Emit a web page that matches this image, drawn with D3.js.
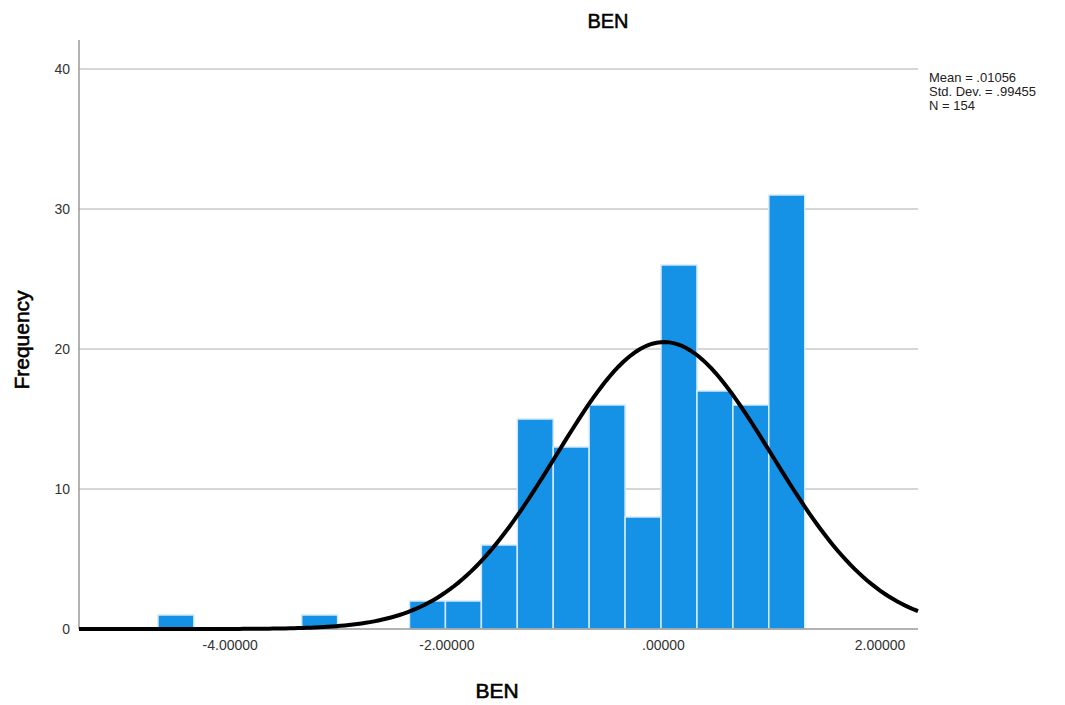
<!DOCTYPE html>
<html lang="en">
<head>
    <meta charset="UTF-8">
    <title>BEN Histogram</title>
    <style>
        body { margin: 0; background: #fff; }
        text { font-family: "Liberation Sans", Arial, sans-serif; }
    </style>
    <script src="https://d3js.org/d3.v7.min.js"></script>
</head>
<body>
    <div id="chart"></div>

    <script>
        // histogram data
        const binStart = -4.663
        const binWidth = 0.3318
        const counts = [1, 0, 0, 0, 1, 0, 0, 2, 2, 6, 15, 13, 16, 8, 26, 17, 16, 31]
        const xTicks = [-4, -2, 0, 2]
        const yTicks = [0, 10, 20, 30, 40]
        const stats = { mean: 0.01056, sd: 0.99455, n: 154 }
        const statLines = ["Mean = .01056", "Std. Dev. = .99455", "N = 154"]

        const width = 1065, height = 705
        const plot = {left: 79, right: 918, top: 40, bottom: 629}

        const svg = d3.select("#chart")
            .append("svg")
            .attr("width", width)
            .attr("height", height)

        const x = d3.scaleLinear()
            .domain([-5.392, 2.355])
            .range([plot.left, plot.right])

        const y = d3.scaleLinear()
            .domain([0, 42.07])
            .range([plot.bottom, plot.top])

        // SPSS style: plain hyphen, no leading zero
        const fmtX = d => d === 0 ? ".00000" : (d < 0 ? "-" : "") + Math.abs(d).toFixed(5)

        //gridlines
        svg.append("g")
            .selectAll("line")
            .data(yTicks.filter(d => d > 0))
            .join("line")
            .attr("x1", plot.left)
            .attr("x2", plot.right)
            .attr("y1", d => y(d))
            .attr("y2", d => y(d))
            .attr("stroke", "#c8c8c8")
            .attr("stroke-width", 1.5)

        //bars
        const bins = counts.map((c, i) => ({x0: binStart + i*binWidth, x1: binStart + (i+1)*binWidth, count: c}))
        svg.append("g")
            .selectAll("rect")
            .data(bins.filter(d => d.count > 0))
            .join("rect")
            .attr("x", d => x(d.x0))
            .attr("width", d => x(d.x1) - x(d.x0))
            .attr("y", d => y(d.count))
            .attr("height", d => y(0) - y(d.count))
            .attr("fill", "#1591e6")
            .attr("stroke", "#d4eafa")
            .attr("stroke-width", 1.5)

        //axes
        const yAxis = svg.append("g")
            .attr("transform", `translate(${plot.left},0)`)
            .call(d3.axisLeft(y).tickValues(yTicks).tickSize(0).tickPadding(9))
        yAxis.select(".domain").attr("stroke", "#9a9a9a").attr("stroke-width", 1.5)
            .attr("d", `M0,${plot.bottom}V${plot.top}`)
        yAxis.selectAll("text").style("font-size", "14px").attr("fill", "#333")

        const xAxis = svg.append("g")
            .attr("transform", `translate(0,${plot.bottom})`)
            .call(d3.axisBottom(x).tickValues(xTicks).tickFormat(fmtX).tickSize(0).tickPadding(11))
        xAxis.select(".domain").attr("stroke", "#9a9a9a").attr("stroke-width", 1.5)
            .attr("d", `M${plot.left},0H${plot.right}`)
        xAxis.selectAll("text").style("font-size", "14px").attr("fill", "#333")

        //normal curve
        const normal = v => stats.n * binWidth / (stats.sd * Math.sqrt(2*Math.PI)) *
            Math.exp(-0.5 * Math.pow((v - stats.mean) / stats.sd, 2))
        const curvePts = d3.range(200).map(i => {
            const v = x.domain()[0] + i * (x.domain()[1] - x.domain()[0]) / 199
            return [v, normal(v)]
        })
        svg.append("path")
            .datum(curvePts)
            .attr("d", d3.line().x(d => x(d[0])).y(d => y(d[1])))
            .attr("fill", "none")
            .attr("stroke", "#000")
            .attr("stroke-width", 4)

        //titles
        svg.append("text")
            .attr("x", 608).attr("y", 28)
            .attr("text-anchor", "middle")
            .style("font-size", "20px")
            .attr("stroke", "#000").attr("stroke-width", 0.5)
            .text("BEN")

        svg.append("text")
            .attr("x", 497).attr("y", 698)
            .attr("text-anchor", "middle")
            .style("font-size", "21px")
            .attr("stroke", "#000").attr("stroke-width", 0.6)
            .text("BEN")

        svg.append("text")
            .attr("transform", "translate(29,340) rotate(-90)")
            .attr("text-anchor", "middle")
            .style("font-size", "21px")
            .attr("stroke", "#000").attr("stroke-width", 0.6)
            .text("Frequency")

        //stats legend
        svg.append("g")
            .selectAll("text")
            .data(statLines)
            .join("text")
            .attr("x", 929)
            .attr("y", (d, i) => 82 + i * 14)
            .style("font-size", "13px")
            .attr("fill", "#222")
            .text(d => d)
    </script>
</body>
</html>
